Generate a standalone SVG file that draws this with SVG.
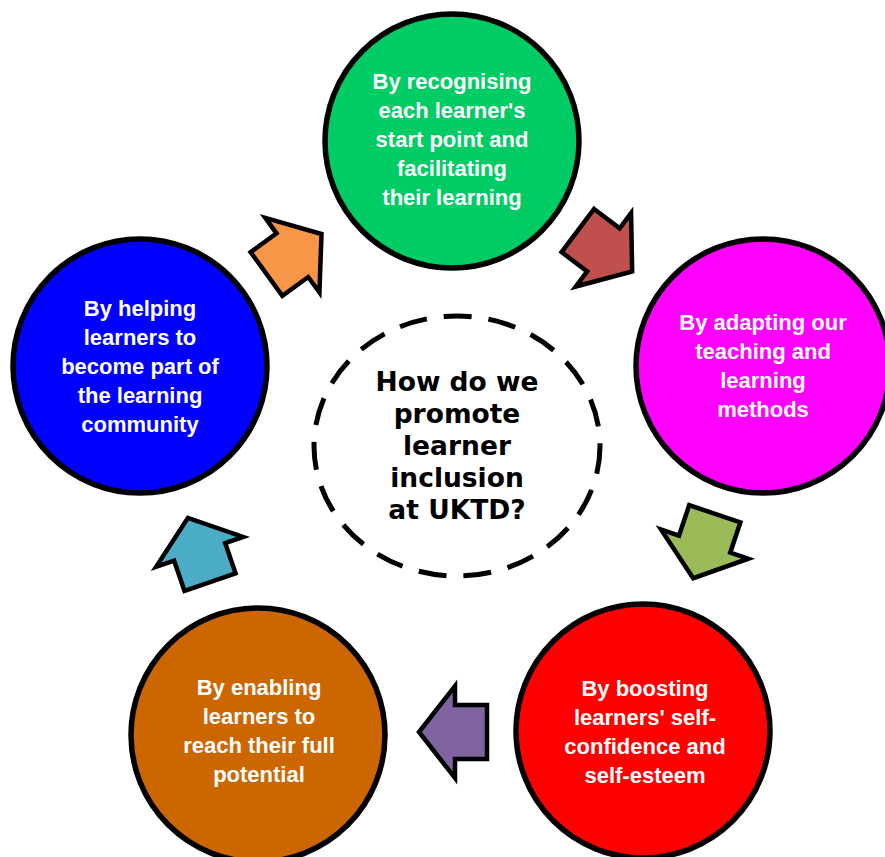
<svg xmlns="http://www.w3.org/2000/svg" width="885" height="857" viewBox="0 0 885 857">
<style>
.node{stroke:#000;stroke-width:5.5}
.lbl{font-family:"Liberation Sans",Arial,sans-serif;font-weight:bold;font-size:22px;fill:#fff;text-anchor:middle}
.arr{stroke:#000;stroke-width:4.5;stroke-linejoin:miter}
.ctr{font-family:"DejaVu Sans",Verdana,sans-serif;font-weight:bold;font-size:26.5px;fill:#000;text-anchor:middle}
</style>
<defs>
<polygon id="blk" points="-34,-27 -2,-27 -2,-46 34,0 -2,46 -2,27 -34,27"/>
</defs>
<rect width="885" height="857" fill="#fff"/>
<g id="connectors">
<use href="#blk" class="arr" fill="#F79646" transform="translate(294,254) rotate(-36)"/>
<use href="#blk" class="arr" fill="#C0504D" transform="translate(605,251) rotate(37)"/>
<use href="#blk" class="arr" fill="#9BBB59" transform="translate(704,546) rotate(108.5)"/>
<use href="#blk" class="arr" fill="#8064A2" transform="translate(453,732) rotate(180)"/>
<use href="#blk" class="arr" fill="#4BACC6" transform="translate(199,550) rotate(-109)"/>
</g>
<g id="center">
<ellipse cx="457" cy="446" rx="143" ry="130" fill="none" stroke="#000" stroke-width="5" stroke-dasharray="28 17"/>
<text class="ctr" x="457"><tspan x="457" y="391">How do we</tspan><tspan x="457" y="423">promote</tspan><tspan x="457" y="455">learner</tspan><tspan x="457" y="487">inclusion</tspan><tspan x="457" y="519">at UKTD?</tspan></text>
</g>
<g id="n-recognising">
<circle class="node" cx="452" cy="141" r="127" fill="#00CC66"/>
<text class="lbl"><tspan x="452" y="89">By recognising</tspan><tspan x="452" y="118">each learner's</tspan><tspan x="452" y="147">start point and</tspan><tspan x="452" y="176">facilitating</tspan><tspan x="452" y="205">their learning</tspan></text>
</g>
<g id="n-adapting">
<circle class="node" cx="763" cy="366" r="127" fill="#FF00FF"/>
<text class="lbl"><tspan x="763" y="330">By adapting our</tspan><tspan x="763" y="359">teaching and</tspan><tspan x="763" y="388">learning</tspan><tspan x="763" y="417">methods</tspan></text>
</g>
<g id="n-boosting">
<circle class="node" cx="643" cy="731" r="127" fill="#FF0000"/>
<text class="lbl"><tspan x="645" y="696">By boosting</tspan><tspan x="645" y="725">learners' self-</tspan><tspan x="645" y="754">confidence and</tspan><tspan x="645" y="783">self-esteem</tspan></text>
</g>
<g id="n-enabling">
<circle class="node" cx="258" cy="735" r="127" fill="#CC6600"/>
<text class="lbl"><tspan x="259" y="695">By enabling</tspan><tspan x="259" y="724">learners to</tspan><tspan x="259" y="753">reach their full</tspan><tspan x="259" y="782">potential</tspan></text>
</g>
<g id="n-helping">
<circle class="node" cx="140" cy="366" r="127" fill="#0000FF"/>
<text class="lbl"><tspan x="140" y="316">By helping</tspan><tspan x="140" y="345">learners to</tspan><tspan x="140" y="374">become part of</tspan><tspan x="140" y="403">the learning</tspan><tspan x="140" y="432">community</tspan></text>
</g>
</svg>
